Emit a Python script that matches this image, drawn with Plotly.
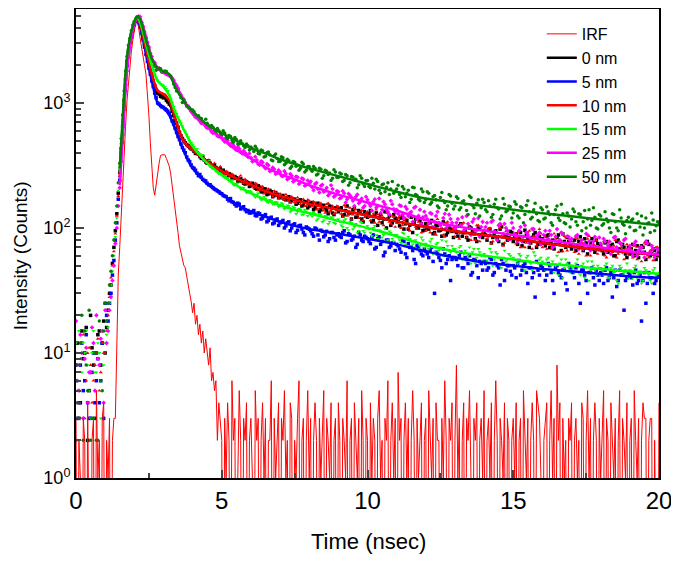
import numpy as np
import plotly.graph_objects as go

# ---------------- data ----------------
# scatter channels, set A: 0.0 .. 20.0 ns (0.1 ns step)
#                   set B: 0.05 .. 19.95 ns (0.1 ns step, in-between channels)
SC_STEP = 0.1

SC_50NM = [2, 3, 20, 15, 5, 2, 3, 2, 18, 5, 25,
           25, 45, 80, 150, 330, 800, 1800, 2900, 3800, 4500, 4900,
           4650, 3950, 3250, 2700, 2200, 2050, 1870, 1880,
           1750, 1790, 1660, 1560, 1330, 1270, 1100, 1060, 940, 910,
           880, 800, 790, 750, 690, 690, 625, 640, 585, 600,
           560, 575, 520, 540, 485, 510, 470, 475, 440, 455,
           445, 410, 430, 390, 415, 375, 405, 350, 380, 360,
           340, 365, 330, 345, 310, 335, 318, 300, 325, 290,
           310, 285, 300, 270, 295, 262, 285, 275, 250, 280,
           255, 270, 240, 262, 230, 255, 245, 222, 250, 215,
           240, 210, 228, 245, 200, 222, 195, 230, 205, 190,
           205, 185, 215, 178, 200, 170, 210, 182, 165, 195,
           168, 190, 160, 182, 150, 175, 165, 140, 185, 158,
           150, 172, 145, 165, 138, 180, 152, 130, 168, 145,
           160, 135, 150, 128, 170, 142, 125, 155, 138, 148,
           132, 155, 120, 145, 128, 165, 118, 140, 130, 112,
           140, 120, 135, 110, 128, 150, 115, 130, 108, 125,
           118, 135, 105, 128, 112, 100, 140, 115, 122, 98,
           125, 108, 118, 100, 130, 112, 95, 120, 105, 115,
           102, 118, 96, 112, 125, 100, 108, 92, 116, 104,
           110]
SC_50NM_B = [4, 12, 2, 8, 22, 3, 10, 2, 6, 15,
             18, 35, 60, 110, 230, 520, 1250, 2350, 3300, 4200,
             4750, 4850, 3600, 2950, 2400, 2100, 1950, 1830, 1900, 1760,
             1800, 1690, 1620, 1420, 1250, 1180, 1010, 1000, 920, 880,
             850, 770, 760, 700, 740, 640, 660, 600, 625, 575,
             600, 530, 550, 505, 530, 470, 500, 455, 470, 420,
             430, 450, 395, 420, 370, 400, 385, 345, 390, 340,
             372, 320, 355, 300, 340, 312, 290, 335, 280, 310,
             295, 310, 265, 300, 250, 290, 268, 240, 292, 255,
             275, 235, 268, 220, 258, 242, 210, 262, 225, 240,
             215, 250, 205, 235, 190, 225, 212, 185, 235, 198,
             220, 175, 205, 190, 160, 212, 185, 170, 205, 160,
             195, 155, 178, 168, 145, 192, 160, 150, 180, 142,
             178, 140, 162, 155, 128, 175, 145, 158, 125, 170,
             140, 165, 122, 155, 145, 118, 172, 135, 150, 120,
             162, 125, 148, 110, 152, 135, 122, 158, 115, 145,
             118, 148, 128, 105, 140, 120, 155, 110, 132, 102,
             142, 112, 130, 95, 138, 118, 105, 145, 100, 128,
             105, 135, 112, 92, 128, 100, 140, 108, 90, 122,
             115, 95, 130, 102, 88, 120, 110, 132, 95, 112]

SC_25NM = [18, 5, 10, 9, 4, 7, 12, 20, 8, 15, 22,
           15, 28, 50, 100, 210, 480, 1250, 2300, 3300, 4200, 4800,
           4900, 4100, 3350, 2800, 2350, 2100, 1880, 1830,
           1780, 1700, 1660, 1580, 1420, 1310, 1160, 1060, 950, 900,
           830, 770, 740, 690, 680, 630, 620, 575, 570, 540,
           530, 490, 500, 455, 460, 420, 430, 395, 400, 370,
           365, 345, 350, 320, 335, 300, 318, 290, 295, 275,
           280, 260, 272, 250, 262, 240, 255, 232, 245, 222,
           228, 212, 225, 205, 218, 195, 210, 188, 205, 182,
           195, 175, 190, 170, 182, 165, 178, 158, 172, 150,
           168, 150, 162, 145, 172, 140, 155, 135, 165, 142,
           140, 152, 128, 148, 125, 135, 145, 118, 140, 122,
           125, 108, 130, 112, 135, 105, 120, 100, 128, 110,
           98, 118, 105, 95, 125, 100, 112, 90, 120, 102,
           96, 110, 88, 115, 92, 105, 85, 108, 95, 82,
           100, 85, 95, 78, 105, 88, 80, 98, 84, 92,
           78, 95, 82, 88, 72, 98, 80, 90, 75, 85,
           82, 70, 88, 75, 68, 90, 78, 72, 85, 70,
           75, 82, 65, 78, 70, 85, 66, 74, 80, 64,
           72, 60, 78, 66, 70, 58, 75, 64, 68, 62,
           66]
SC_25NM_B = [6, 14, 3, 11, 7, 16, 5, 9, 13, 4,
             12, 22, 38, 75, 150, 340, 880, 1800, 2800, 3800,
             4500, 4950, 4400, 3700, 3050, 2500, 2150, 1950, 1900, 1790,
             1760, 1700, 1640, 1520, 1380, 1200, 1100, 1010, 940, 860,
             800, 780, 715, 700, 650, 660, 590, 600, 545, 550,
             505, 520, 470, 480, 440, 445, 405, 415, 385, 395,
             340, 372, 325, 342, 310, 325, 285, 305, 270, 290,
             262, 285, 245, 270, 235, 258, 225, 250, 218, 240,
             235, 200, 230, 192, 222, 200, 182, 220, 178, 198,
             172, 198, 160, 188, 175, 150, 185, 162, 145, 178,
             158, 138, 170, 150, 132, 162, 140, 128, 155, 135,
             130, 150, 120, 142, 132, 112, 148, 125, 108, 135,
             118, 132, 102, 125, 110, 98, 130, 105, 118, 95,
             110, 92, 122, 98, 108, 88, 118, 96, 85, 112,
             102, 86, 112, 94, 80, 108, 90, 100, 82, 110,
             90, 78, 102, 85, 92, 76, 98, 82, 88, 74,
             88, 76, 95, 70, 85, 78, 92, 72, 86, 80,
             72, 86, 68, 80, 74, 88, 66, 78, 70, 84,
             68, 78, 72, 62, 84, 70, 76, 64, 82, 68,
             66, 74, 60, 70, 64, 78, 62, 72, 58, 68]

SC_10NM = [10, 8, 12, 3, 10, 8, 6, 10, 5, 12, 10,
           20, 40, 65, 125, 260, 600, 1500, 2600, 3500, 4300, 4800,
           4250, 3400, 2750, 2100, 1750, 1420, 1270, 1200,
           1160, 1130, 1020, 900, 780, 650, 560, 510, 470, 455,
           430, 400, 385, 370, 355, 340, 325, 315, 300, 295,
           290, 270, 280, 258, 265, 245, 255, 232, 245, 225,
           230, 210, 225, 200, 215, 192, 205, 185, 198, 180,
           188, 170, 185, 165, 178, 160, 175, 155, 170, 150,
           165, 148, 160, 142, 158, 138, 155, 135, 150, 132,
           148, 130, 152, 125, 145, 128, 140, 120, 138, 122,
           135, 115, 130, 140, 112, 125, 118, 132, 108, 122,
           110, 125, 105, 120, 100, 128, 108, 98, 118, 104,
           95, 112, 102, 90, 118, 98, 88, 110, 96, 105,
           85, 102, 92, 110, 84, 98, 88, 80, 105, 90,
           95, 82, 100, 78, 92, 86, 105, 76, 90, 84,
           88, 75, 95, 80, 70, 92, 78, 86, 72, 98,
           70, 85, 76, 68, 90, 74, 80, 65, 84, 72,
           78, 64, 82, 70, 75, 60, 86, 68, 72, 62,
           66, 78, 58, 72, 64, 80, 62, 70, 56, 74,
           68, 58, 72, 62, 54, 76, 60, 66, 55, 70,
           60]
SC_10NM_B = [5, 9, 14, 6, 11, 4, 8, 13, 7, 10,
             15, 28, 50, 90, 180, 400, 1000, 2100, 3100, 3900,
             4600, 4650, 3850, 3000, 2400, 1900, 1550, 1320, 1230, 1190,
             1170, 1080, 980, 820, 700, 600, 520, 480, 450, 440,
             415, 410, 375, 365, 345, 350, 320, 330, 295, 310,
             275, 285, 262, 270, 248, 240, 262, 228, 238, 220,
             215, 228, 200, 212, 188, 202, 195, 178, 192, 172,
             182, 168, 178, 160, 172, 158, 165, 162, 150, 168,
             152, 162, 140, 155, 145, 132, 158, 138, 130, 150,
             140, 122, 148, 130, 118, 142, 126, 135, 115, 132,
             122, 138, 110, 128, 120, 105, 132, 112, 125, 102,
             120, 100, 115, 108, 95, 122, 102, 112, 92, 115,
             105, 92, 112, 88, 108, 100, 85, 112, 94, 100,
             96, 82, 108, 90, 100, 80, 95, 105, 78, 92,
             86, 98, 75, 92, 84, 100, 72, 94, 80, 88,
             82, 92, 70, 85, 76, 95, 68, 84, 78, 90,
             80, 68, 88, 72, 82, 64, 78, 86, 66, 80,
             74, 84, 62, 76, 68, 82, 60, 74, 80, 66,
             70, 60, 76, 66, 72, 58, 78, 64, 68, 62,
             64, 72, 56, 68, 62, 74, 58, 66, 60, 70]

SC_0NM = [8, 3, 15, 10, 2, 20, 8, 10, 15, 12, 10,
          22, 35, 70, 130, 280, 650, 1550, 2600, 3500, 4300, 4800,
          4300, 3300, 2650, 2000, 1650, 1380, 1200, 1130,
          1100, 1050, 980, 860, 720, 640, 545, 500, 465, 440,
          425, 395, 390, 360, 350, 330, 330, 305, 305, 285,
          280, 275, 262, 265, 250, 252, 238, 240, 225, 230,
          218, 222, 205, 212, 195, 205, 188, 195, 182, 186,
          175, 182, 168, 178, 165, 170, 158, 168, 152, 162,
          150, 160, 145, 158, 140, 152, 138, 150, 132, 145,
          135, 145, 128, 150, 132, 140, 122, 138, 118, 135,
          122, 138, 115, 132, 120, 110, 135, 118, 105, 128,
          118, 104, 125, 108, 98, 122, 110, 100, 115, 95,
          108, 98, 115, 92, 105, 96, 112, 88, 100, 94,
          98, 86, 108, 92, 84, 102, 95, 82, 100, 88,
          92, 80, 98, 84, 95, 78, 102, 86, 80, 94,
          78, 90, 84, 72, 96, 82, 76, 88, 70, 85,
          82, 72, 88, 76, 68, 84, 74, 90, 70, 78,
          68, 80, 72, 85, 66, 76, 70, 82, 64, 75,
          72, 62, 78, 68, 74, 60, 80, 66, 70, 58,
          62, 74, 66, 58, 72, 64, 78, 60, 68, 56,
          64]
SC_0NM_B = [12, 4, 9, 16, 5, 11, 3, 14, 8, 18,
            16, 30, 52, 95, 190, 430, 1050, 2150, 3100, 3950,
            4600, 4600, 3800, 2950, 2300, 1800, 1480, 1270, 1180, 1120,
            1120, 1020, 960, 800, 690, 580, 520, 480, 455, 430,
            410, 400, 372, 370, 338, 345, 312, 320, 292, 300,
            290, 265, 272, 248, 258, 236, 248, 228, 235, 215,
            228, 208, 218, 195, 205, 185, 200, 178, 192, 175,
            180, 170, 172, 162, 170, 155, 165, 150, 162, 145,
            158, 140, 155, 135, 150, 145, 130, 148, 128, 142,
            142, 125, 138, 130, 118, 145, 122, 135, 112, 130,
            130, 112, 125, 105, 128, 118, 100, 125, 110, 120,
            112, 120, 98, 115, 105, 92, 118, 100, 108, 96,
            100, 110, 90, 105, 95, 86, 108, 92, 98, 84,
            92, 104, 86, 96, 80, 100, 90, 78, 98, 84,
            88, 96, 76, 90, 82, 98, 74, 88, 84, 92,
            86, 74, 92, 78, 88, 70, 84, 92, 74, 80,
            76, 86, 70, 80, 74, 88, 66, 78, 84, 72,
            74, 66, 78, 70, 82, 62, 76, 68, 80, 70,
            66, 76, 64, 72, 60, 78, 68, 74, 62, 70,
            68, 60, 72, 64, 70, 56, 74, 62, 66, 60]

SC_15NM = [12, 15, 7, 10, 8, 3, 15, 7, 10, 15, 12,
           16, 35, 60, 120, 300, 700, 1650, 2700, 3600, 4400, 4900,
           4350, 3600, 2950, 2400, 2000, 1700, 1520, 1420,
           1380, 1300, 1150, 1000, 870, 770, 690, 610, 560, 500,
           460, 420, 400, 375, 350, 335, 310, 300, 285, 272,
           268, 255, 248, 235, 222, 225, 212, 205, 200, 192,
           195, 182, 185, 175, 170, 172, 160, 165, 155, 160,
           150, 155, 145, 150, 138, 145, 135, 140, 128, 136,
           132, 124, 130, 118, 128, 115, 122, 112, 120, 108,
           118, 105, 115, 100, 112, 98, 108, 95, 110, 92,
           104, 92, 100, 88, 96, 84, 98, 80, 92, 78,
           88, 80, 92, 74, 85, 78, 70, 88, 72, 80,
           75, 68, 82, 64, 76, 70, 60, 78, 66, 72,
           68, 58, 72, 62, 55, 70, 64, 52, 68, 60,
           62, 55, 68, 50, 64, 58, 48, 66, 56, 60,
           58, 50, 62, 54, 46, 60, 52, 64, 48, 56,
           54, 46, 58, 50, 44, 60, 52, 40, 56, 48,
           50, 44, 56, 42, 52, 48, 38, 54, 46, 50,
           48, 42, 52, 40, 50, 45, 36, 48, 44, 52,
           46, 40, 50, 42, 36, 48, 44, 38, 46, 42,
           44]
SC_15NM_B = [8, 3, 12, 15, 5, 10, 7, 12, 3, 8,
             14, 25, 45, 85, 200, 470, 1150, 2200, 3200, 4000,
             4700, 4700, 3950, 3250, 2650, 2150, 1850, 1580, 1470, 1400,
             1340, 1250, 1080, 930, 820, 720, 650, 590, 530, 480,
             445, 430, 390, 385, 340, 345, 305, 308, 280, 275,
             258, 262, 238, 242, 220, 228, 205, 210, 192, 198,
             188, 176, 190, 168, 178, 162, 168, 155, 162, 148,
             158, 142, 152, 135, 148, 130, 142, 128, 140, 125,
             128, 132, 115, 128, 112, 125, 108, 122, 110, 115,
             112, 102, 118, 96, 110, 102, 92, 112, 95, 100,
             98, 86, 104, 82, 95, 88, 78, 94, 82, 88,
             84, 76, 90, 72, 82, 74, 80, 68, 84, 70,
             72, 78, 62, 74, 66, 80, 60, 72, 64, 68,
             64, 70, 56, 66, 60, 52, 68, 58, 64, 54,
             60, 52, 64, 56, 62, 50, 58, 54, 62, 50,
             56, 52, 60, 48, 58, 54, 46, 60, 52, 58,
             52, 56, 46, 54, 50, 42, 56, 48, 52, 44,
             48, 52, 44, 50, 40, 54, 46, 50, 42, 48,
             46, 50, 40, 48, 44, 38, 50, 42, 46, 40,
             44, 48, 40, 45, 38, 46, 42, 36, 48, 40]

SC_5NM = [6, 4, 12, 6, 4, 3, 10, 6, 4, 12, 25,
          18, 30, 55, 110, 240, 560, 1400, 2500, 3400, 4200, 4700,
          4050, 3200, 2450, 1900, 1500, 1200, 1000, 950,
          920, 880, 830, 720, 630, 540, 470, 420, 370, 340,
          305, 290, 262, 255, 240, 228, 222, 210, 202, 195,
          188, 180, 170, 172, 160, 150, 155, 145, 140, 138,
          132, 138, 125, 130, 120, 128, 115, 122, 110, 118,
          110, 115, 104, 112, 100, 108, 96, 105, 92, 102,
          98, 90, 100, 88, 96, 85, 94, 82, 92, 80,
          90, 84, 95, 78, 88, 82, 70, 92, 80, 86,
          82, 75, 88, 70, 85, 78, 64, 80, 72, 76,
          74, 68, 80, 62, 75, 70, 56, 72, 66, 60,
          65, 58, 70, 30, 62, 55, 68, 52, 60, 56,
          58, 50, 64, 48, 56, 60, 44, 55, 40, 52,
          54, 46, 58, 42, 52, 48, 56, 38, 50, 45,
          50, 40, 55, 46, 52, 36, 48, 44, 54, 42,
          48, 38, 52, 44, 30, 50, 42, 46, 36, 52,
          45, 40, 50, 25, 46, 38, 44, 48, 35, 42,
          44, 36, 48, 40, 28, 46, 38, 42, 22, 40,
          42, 35, 46, 38, 18, 44, 36, 40, 30, 38,
          41]
SC_5NM_B = [3, 8, 5, 14, 3, 7, 4, 9, 6, 3,
            20, 25, 42, 80, 170, 400, 950, 2000, 3000, 3800,
            4500, 4400, 3600, 2800, 2150, 1700, 1350, 1100, 980, 930,
            900, 860, 780, 680, 580, 510, 440, 400, 350, 320,
            300, 275, 268, 245, 238, 222, 215, 205, 198, 190,
            182, 178, 165, 162, 155, 158, 142, 148, 135, 132,
            135, 126, 132, 118, 125, 112, 120, 108, 116, 105,
            112, 100, 110, 95, 106, 92, 104, 98, 88, 100,
            95, 86, 98, 80, 94, 88, 78, 92, 84, 88,
            86, 92, 76, 90, 80, 86, 74, 88, 78, 84,
            78, 84, 68, 82, 74, 60, 80, 70, 76, 66,
            72, 64, 78, 58, 70, 66, 52, 70, 62, 68,
            62, 66, 54, 64, 58, 48, 62, 56, 38, 58,
            56, 60, 48, 58, 52, 42, 56, 50, 54, 46,
            52, 48, 56, 44, 50, 35, 52, 46, 50, 42,
            48, 52, 42, 50, 44, 48, 40, 28, 46, 50,
            46, 42, 50, 38, 48, 44, 40, 46, 32, 48,
            44, 48, 36, 46, 42, 30, 44, 40, 46, 38,
            42, 46, 38, 44, 40, 34, 46, 42, 38, 44,
            40, 44, 36, 42, 38, 25, 44, 40, 36, 42]

# IRF: 0.00 .. 20.00 ns, 0.05 ns step (0 counts fall to the axis)
IRF_STEP = 0.05
IRF = [3, 0, 2, 1, 0, 3, 2, 0, 4, 1,
       0, 2, 3, 0, 5, 1, 2, 0, 3, 4,
       0, 2, 1, 3, 0, 2, 3, 3,
       12, 42, 70, 130, 220, 380, 650, 1050, 1500, 2000, 2600, 3200,
       3900, 4400, 4500, 4000, 3300, 2700, 2300, 2000, 1700, 1200,
       800, 480, 300, 210, 183, 215, 270, 330, 380, 385,
       383, 385, 360, 330, 312, 270, 220, 180, 148, 115,
       92, 72, 64, 58, 50, 48, 40, 34, 30, 26,
       21, 25, 17, 20, 14, 17, 12, 15, 10, 13,
       10, 8, 11, 6, 7, 5, 6, 2, 4, 3,
       2, 0, 3, 1, 4, 2, 0, 6, 2, 3, 0, 1, 5, 2, 0, 3, 2, 4, 0, 2,
       3, 1, 0, 5, 2, 3, 0, 2, 4, 1, 3, 0, 2, 2, 6, 0, 3, 1, 2, 4,
       0, 3, 2, 5, 1, 2, 0, 4, 3, 0, 2, 1, 3, 6, 0, 2, 3, 0, 2, 5,
       1, 3, 0, 2, 4, 2, 0, 3, 1, 2, 5, 0, 3, 2, 1, 4, 0, 2, 3, 0,
       4, 2, 0, 3, 2, 1, 6, 0, 2, 3, 0, 4, 2, 1, 3, 0, 5, 2, 0, 3,
       2, 0, 4, 1, 3, 2, 0, 3, 5, 1, 2, 0, 3, 2, 6, 0, 2, 4, 1, 3,
       0, 7, 2, 3, 0, 2, 4, 1, 3, 0, 2, 5, 2, 0, 3, 1, 2, 4, 0, 2,
       3, 0, 5, 2, 1, 3, 0, 4, 2, 2, 0, 3, 1, 6, 2, 0, 3, 2, 4, 0,
       2, 8, 1, 3, 0, 2, 4, 0, 3, 2, 5, 1, 0, 3, 2, 4, 0, 2, 3, 1,
       5, 0, 2, 3, 1, 4, 0, 2, 6, 2, 0, 3, 2, 1, 4, 0, 3, 2, 0, 2,
       3, 1, 4, 0, 2, 3, 0, 5, 2, 1, 3, 0, 2, 4, 2, 0, 5, 4, 3, 1,
       0, 2, 3, 4, 0, 2, 5, 1, 3, 0, 8, 2, 4, 0, 3, 1, 2, 0, 3, 2,
       4, 0, 2, 3, 1, 2, 0, 4, 3, 0, 2, 5, 1, 3, 0, 2, 4, 2, 0, 3,
       1, 2, 5, 0, 3, 2, 0, 4, 2, 1, 3, 0, 2, 5, 0, 3, 2, 1, 4, 0,
       2, 3, 0, 5, 2, 1, 3, 0, 2, 4, 3, 3, 0, 2, 3, 3, 0, 2, 0, 0,
       4]

# fitted decay curves
FIT_T = [1.5, 1.6, 1.7, 1.8, 1.9, 2.0, 2.1, 2.2, 2.4, 2.6, 2.8, 3.0, 3.2, 3.4, 3.6,
         3.8, 4.0, 4.5, 5.0, 5.5, 6.0, 6.5, 7.0, 7.5, 8.0, 9.0, 10, 11, 12, 13,
         14, 15, 16, 17, 18, 19, 20]
FIT_0NM = [270, 640, 1520, 2600, 3500, 4300, 4800, 4300, 2650, 1650, 1200, 1120, 1000, 740, 540,
           460, 420, 340, 285, 250, 222, 197, 180, 168, 156, 140, 126, 113, 102, 94,
           88, 82, 76, 71, 67, 64, 61]
FIT_5NM = [240, 570, 1420, 2500, 3400, 4200, 4700, 4100, 2500, 1500, 1000, 920, 800, 620, 470,
           365, 300, 225, 188, 155, 135, 123, 112, 104, 98, 90, 82, 74, 65, 58,
           53, 50, 47, 45, 43, 41, 40]
FIT_10NM = [260, 620, 1500, 2600, 3500, 4300, 4800, 4300, 2700, 1700, 1250, 1180, 1050, 760, 540,
            460, 420, 340, 285, 250, 222, 197, 180, 168, 156, 140, 126, 113, 102, 94,
            88, 82, 76, 71, 67, 64, 61]
FIT_15NM = [280, 680, 1600, 2700, 3600, 4400, 4850, 4400, 3000, 2000, 1500, 1350, 1150, 850, 680,
            550, 450, 330, 265, 220, 190, 168, 152, 140, 131, 114, 100, 86, 73, 65,
            60, 56, 52, 50, 47, 45, 43]
FIT_25NM = [220, 500, 1300, 2350, 3350, 4250, 4850, 4800, 3400, 2300, 1900, 1750, 1650, 1450, 1150,
            960, 820, 640, 520, 420, 360, 305, 270, 245, 220, 185, 160, 138, 116, 104,
            95, 88, 81, 75, 70, 65, 61]
FIT_50NM = [300, 750, 1750, 2850, 3750, 4450, 4900, 4700, 3200, 2250, 1900, 1780, 1700, 1350, 1120,
            960, 860, 670, 575, 500, 435, 395, 355, 325, 300, 260, 225, 195, 172, 160,
            150, 140, 131, 124, 117, 111, 105]

LABELS = ["0 nm", "5 nm", "10 nm", "15 nm", "25 nm", "50 nm"]
X_TICKS = [0, 5, 10, 15, 20]
Y_TICKS = [1, 10, 100, 1000]
Y_TICK_TEXT = ["10<sup>0</sup>", "10<sup>1</sup>", "10<sup>2</sup>", "10<sup>3</sup>"]
X_TITLE = "Time (nsec)"
Y_TITLE = "Intensity (Counts)"

# ---------------- styling ----------------
COLORS = ["#000000", "#0000FF", "#FF0000", "#00FF00", "#FF00FF", "#008000"]
SYMBOLS = ["square", "square", "triangle-up", "triangle-down", "diamond", "circle"]
FONT = "Liberation Sans, Arial, sans-serif"

scatters = [(SC_0NM, SC_0NM_B), (SC_5NM, SC_5NM_B), (SC_10NM, SC_10NM_B),
            (SC_15NM, SC_15NM_B), (SC_25NM, SC_25NM_B), (SC_50NM, SC_50NM_B)]
fits = [FIT_0NM, FIT_5NM, FIT_10NM, FIT_15NM, FIT_25NM, FIT_50NM]

fig = go.Figure()

for (va, vb), col, sym in zip(scatters, COLORS, SYMBOLS):
    ta = np.arange(len(va)) * SC_STEP
    tb = SC_STEP / 2 + np.arange(len(vb)) * SC_STEP
    t = np.round(np.concatenate([ta, tb]), 3)
    y = list(va) + list(vb)
    fig.add_trace(go.Scatter(x=t, y=y, mode="markers", showlegend=False,
                             marker=dict(color=col, size=3.5, symbol=sym, line=dict(width=0)),
                             hoverinfo="skip"))

t_irf = np.round(np.arange(len(IRF)) * IRF_STEP, 2)
irf_plot = [v if v > 0 else 0.01 for v in IRF]
fig.add_trace(go.Scatter(x=t_irf, y=irf_plot, mode="lines", name="IRF",
                         line=dict(color="#FF0000", width=1)))

for vals, col, lab in zip(fits, COLORS, LABELS):
    fig.add_trace(go.Scatter(x=FIT_T, y=vals, mode="lines", name=lab,
                             line=dict(color=col, width=2.5, shape="spline", smoothing=0.6)))

minor_y = [m * 10 ** d for d in range(0, 4) for m in range(2, 10) if m * 10 ** d < 5800]

# page body has an 8 px default margin: figure is sized/placed to compensate
fig.update_layout(
    width=671, height=554,
    margin=dict(l=68, r=20, t=1, b=84),
    paper_bgcolor="white", plot_bgcolor="white",
    font=dict(family=FONT, color="black"),
    legend=dict(x=0.799, y=0.983, xanchor="left", yanchor="top",
                bgcolor="rgba(0,0,0,0)", font=dict(size=16, family=FONT),
                tracegroupgap=0),
    xaxis=dict(range=[0, 20], tickvals=X_TICKS, ticks="inside", ticklen=8, tickwidth=2,
               tickfont=dict(size=24), showline=True, linewidth=2, linecolor="black",
               mirror=True, showgrid=False, zeroline=False, automargin=False,
               minor=dict(tickvals=[2.5, 7.5, 12.5, 17.5], ticks="inside", ticklen=5,
                          tickwidth=2, showgrid=False)),
    yaxis=dict(type="log", range=[0, 3.752], tickvals=Y_TICKS, ticktext=Y_TICK_TEXT,
               ticks="inside", ticklen=8, tickwidth=2, tickfont=dict(size=18),
               showline=True, linewidth=2, linecolor="black", mirror=True,
               showgrid=False, zeroline=False, automargin=False,
               minor=dict(tickvals=minor_y, ticks="inside", ticklen=5, tickwidth=1.5,
                          showgrid=False)),
    annotations=[
        dict(text=X_TITLE, xref="paper", yref="paper", x=0.502, y=-0.136,
             xanchor="center", yanchor="middle", showarrow=False, font=dict(size=22)),
        dict(text=Y_TITLE, xref="paper", yref="paper", x=-0.096, y=0.473,
             xanchor="center", yanchor="middle", textangle=-90,
             showarrow=False, font=dict(size=19)),
    ],
)

fig.write_html("out.html")
